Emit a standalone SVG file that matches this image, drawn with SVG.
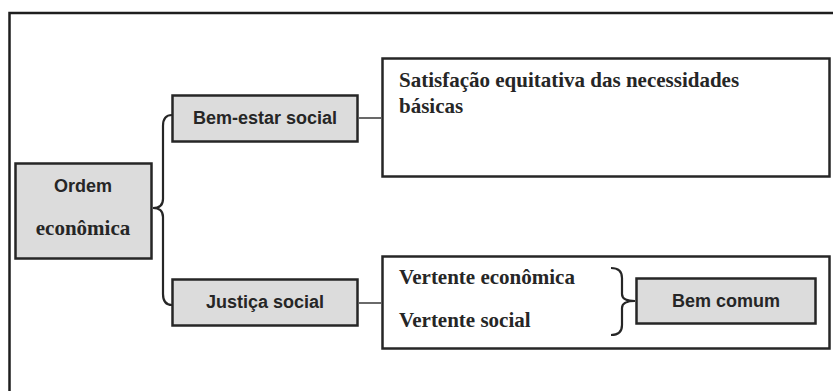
<svg xmlns="http://www.w3.org/2000/svg" width="833" height="391" viewBox="0 0 833 391">
<style>
.box{stroke:#262626;stroke-width:2.5}
.gray{fill:#dcdcdc}
.white{fill:#fff}
.sans{font-family:"Liberation Sans",Arial,sans-serif;font-weight:bold;font-size:18px;fill:#262626}
.serif{font-family:"Liberation Serif","Times New Roman",serif;font-weight:bold;font-size:21px;fill:#262626}
.conn{fill:none;stroke:#444;stroke-width:1.6}
.brace{fill:none;stroke:#262626;stroke-width:2.2}
</style>
<rect width="833" height="391" fill="#fff"/>
<g id="frame">
<path d="M9.5 391 V13 H833" fill="none" stroke="#1e1e1e" stroke-width="2.5"/>
</g>
<g id="ordem">
<rect class="box gray" x="15.5" y="163.5" width="136" height="95"/>
<text class="sans" x="83" y="192" text-anchor="middle">Ordem</text>
<text class="serif" x="83" y="235" text-anchor="middle">econômica</text>
</g>
<g id="bemestar">
<rect class="box gray" x="172.5" y="95.5" width="185" height="46"/>
<text class="sans" x="265" y="124" text-anchor="middle">Bem-estar social</text>
</g>
<g id="justica">
<rect class="box gray" x="172.5" y="279.5" width="185" height="46"/>
<text class="sans" x="265" y="308" text-anchor="middle">Justiça social</text>
</g>
<g id="satisfacao">
<rect class="box white" x="382.5" y="58.5" width="447" height="118"/>
<text class="serif" x="399" y="87">Satisfação equitativa das necessidades</text>
<text class="serif" x="399" y="113">básicas</text>
</g>
<g id="vertentes">
<rect class="box white" x="382.5" y="256.5" width="447" height="92"/>
<text class="serif" x="399" y="284">Vertente econômica</text>
<text class="serif" x="399" y="327">Vertente social</text>
</g>
<g id="bemcomum">
<rect class="box gray" x="636.5" y="278.5" width="179" height="45"/>
<text class="sans" x="726" y="307" text-anchor="middle">Bem comum</text>
</g>
<g id="connectors">
<path class="brace" d="M172 115 Q163 115 163 126 V199 Q163 208 153 208 Q163 208 163 217 V294 Q163 305 172 305"/>
<path class="conn" d="M359 118 H381"/>
<path class="conn" d="M359 303 H381"/>
<path class="brace" d="M611 268 Q622 268 622 278 V294 Q622 301 635 301 Q622 301 622 308 V325 Q622 335 611 335"/>
</g>
</svg>
